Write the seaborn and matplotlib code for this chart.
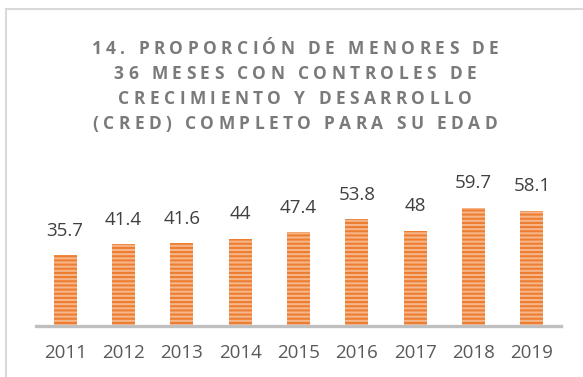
import matplotlib
matplotlib.use("Agg")
import matplotlib.pyplot as plt
from matplotlib.font_manager import FontProperties
from matplotlib.patches import Rectangle
import seaborn as sns
import pandas as pd

# Data
years = ["2011", "2012", "2013", "2014", "2015", "2016", "2017", "2018", "2019"]
values = [35.7, 41.4, 41.6, 44, 47.4, 53.8, 48, 59.7, 58.1]
value_labels = ["35.7", "41.4", "41.6", "44", "47.4", "53.8", "48", "59.7", "58.1"]
title_lines = [
    "14. PROPORCIÓN DE MENORES DE",
    "36 MESES CON CONTROLES DE",
    "CRECIMIENTO Y DESARROLLO",
    "(CRED) COMPLETO PARA SU EDAD",
]

df = pd.DataFrame({"year": years, "value": values})

sns.set_theme(style="white")
plt.rcParams["font.family"] = ["Open Sans", "DejaVu Sans"]
plt.rcParams["hatch.linewidth"] = 1.5

W, H, DPI = 583, 377, 100
fig = plt.figure(figsize=(W / DPI, H / DPI), dpi=DPI, facecolor="white")

# plot area in pixel coordinates
left_px, right_px, base_px, top_px = 36, 561, 326, 170
ax = fig.add_axes([left_px / W, (H - base_px) / H,
                   (right_px - left_px) / W, (base_px - top_px) / H])

sns.barplot(data=df, x="year", y="value", ax=ax, color="#F6B68A",
            width=0.39, saturation=1, edgecolor="#ED7D31", linewidth=0)
for bar in ax.patches:
    bar.set_hatch("----")
    bar.set_edgecolor("#ED7D31")
    bar.set_linewidth(0)

ax.set_ylim(0, 78.6)
ax.set_xlim(-0.5, len(years) - 0.5)
ax.set_xlabel("")
ax.set_ylabel("")
ax.set_yticks([])
ax.tick_params(axis="x", length=0, pad=13, labelsize=13.5, labelcolor="#595959")
for side in ["top", "left", "right"]:
    ax.spines[side].set_visible(False)
ax.spines["bottom"].set_color("#BFBFBF")
ax.spines["bottom"].set_linewidth(2.4)
ax.set_facecolor("none")

for i, (v, lab) in enumerate(zip(values, value_labels)):
    ax.annotate(lab, (i, v), xytext=(0, 11), textcoords="offset points",
                ha="center", va="bottom", fontsize=13.5, color="#404040")

# title with wide letter spacing
fp = FontProperties(family=["Open Sans", "DejaVu Sans"], weight="bold", size=12.5)
fig.canvas.draw()
renderer = fig.canvas.get_renderer()


def text_w(s):
    w, _, _ = renderer.get_text_width_height_descent(s, fp, ismath=False)
    return w


space_w = text_w("a a") - text_w("aa")
tracking = 4.4  # extra pixels between characters
title_color = "#7A7A7A"
centers_y = [47, 72, 97, 122]
center_x = 295
for line, cy in zip(title_lines, centers_y):
    widths = [space_w if c == " " else text_w(c) for c in line]
    total = sum(widths) + tracking * (len(line) - 1)
    x = center_x - total / 2
    for c, w in zip(line, widths):
        if c != " ":
            fig.text(x / W, 1 - cy / H, c, fontproperties=fp, color=title_color,
                     ha="left", va="center_baseline")
        x += w + tracking

# chart frame
frame = Rectangle((6 / W, -0.05), 1.2, 1 - 9 / H + 0.05, transform=fig.transFigure,
                  fill=False, edgecolor="#D9D9D9", linewidth=1.5, clip_on=False)
fig.add_artist(frame)

fig.savefig("out.png", dpi=DPI, facecolor="white")
